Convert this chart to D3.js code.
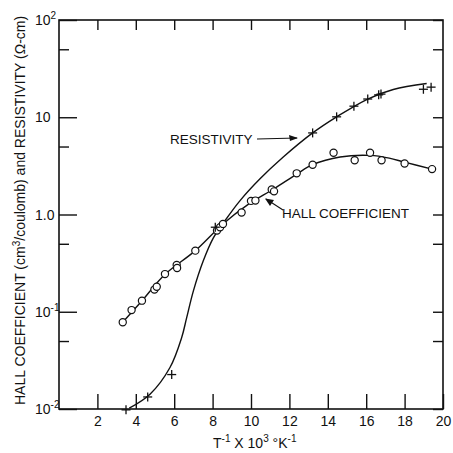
<!DOCTYPE html>
<html><head><meta charset="utf-8">
<script src="https://cdn.jsdelivr.net/npm/d3@7"></script>
<style>
html,body{margin:0;padding:0;background:#fff;}
svg{display:block;}
text{font-family:"Liberation Sans",Arial,sans-serif;fill:#111;}
</style></head>
<body>
<script>
// ---- data ----
const xTicks = [2,4,6,8,10,12,14,16,18,20];
const yMajor = [0.01,0.1,1,10,100];
const yMinor = [0.05,0.5,5,50];
const yTickLabels = [["10","-2"],["10","-1"],["1.0",""],["10",""],["10","2"]];

// Hall coefficient measured points (circles)
const hallX = [3.32,3.78,4.32,4.97,5.09,5.52,6.13,6.15,7.10,8.23,8.39,8.54,9.51,10.0,10.23,11.08,11.2,12.38,13.21,14.3,15.4,16.2,16.8,18.0,19.43];
const hallY = [0.078,0.104,0.130,0.169,0.181,0.244,0.303,0.282,0.425,0.684,0.74,0.80,1.05,1.38,1.39,1.81,1.73,2.65,3.25,4.32,3.61,4.32,3.61,3.34,2.93];
// Hall coefficient fitted curve
const hallCurveX = [3.32,4.3,5.5,7.1,8.54,9.8,11.2,12.38,13.21,14.64,16.2,17.2,18.0,19.43];
const hallCurveY = [0.078,0.128,0.24,0.425,0.80,1.25,1.84,2.6,3.25,3.9,4.05,3.8,3.45,2.93];

// Resistivity measured points (crosses)
const resX = [3.49,4.62,5.87,8.14,13.21,14.46,15.36,16.08,16.65,16.77,18.98,19.38];
const resY = [0.0098,0.0133,0.0226,0.74,6.9,10.1,13.0,15.4,17.0,17.3,19.4,20.4];
// Resistivity fitted curve
const resCurveX = [3.66,4.74,5.78,6.39,6.65,7.0,7.52,8.04,8.65,9.43,10.47,11.68,13.21,14.46,16.08,17.41,19.15];
const resCurveY = [0.0102,0.0142,0.0267,0.0543,0.087,0.164,0.336,0.575,0.867,1.39,2.33,3.9,6.9,10.1,15.4,19.3,22.2];

const W = 453, H = 453;
const m = {left:59, right:10, top:20, bottom:44};
const svg = d3.select("body").append("svg").attr("width",W).attr("height",H);

const x = d3.scaleLinear().domain([0,20]).range([m.left, W-m.right]);
const y = d3.scaleLog().domain([0.01,100]).range([H-m.bottom, m.top]);

const g = svg.append("g");
// frame
g.append("rect").attr("x",x(0)).attr("y",y(100)).attr("width",x(20)-x(0)).attr("height",y(0.01)-y(100))
  .attr("fill","none").attr("stroke","#111").attr("stroke-width",1.6);

// bottom axis (ticks inward, up)
const bottomAxis = d3.axisBottom(x).tickValues(xTicks).tickSize(-15).tickPadding(7).tickFormat(d3.format("d"));
const bg = g.append("g").attr("transform",`translate(0,${y(0.01)})`).call(bottomAxis);
bg.select(".domain").remove();
bg.selectAll("line").attr("stroke","#111").attr("stroke-width",1.4);
bg.selectAll("text").style("font-size","14px").attr("fill","#111");

// top axis ticks
const topAxis = d3.axisTop(x).tickValues(xTicks.slice(0,-1)).tickSize(-10).tickFormat("");
const tg = g.append("g").attr("transform",`translate(0,${y(100)})`).call(topAxis);
tg.select(".domain").remove();
tg.selectAll("line").attr("stroke","#111").attr("stroke-width",1.4);

// left axis ticks
const leftMajor = d3.axisLeft(y).tickValues(yMajor).tickSize(-18).tickFormat("");
const lg = g.append("g").attr("transform",`translate(${x(0)},0)`).call(leftMajor);
lg.select(".domain").remove();
lg.selectAll("line").attr("stroke","#111").attr("stroke-width",1.4);
const leftMinor = d3.axisLeft(y).tickValues(yMinor).tickSize(-10).tickFormat("");
const lg2 = g.append("g").attr("transform",`translate(${x(0)},0)`).call(leftMinor);
lg2.select(".domain").remove();
lg2.selectAll("line").attr("stroke","#111").attr("stroke-width",1.4);

// right axis ticks
const rightT = d3.axisRight(y).tickValues(yMajor.concat(yMinor)).tickSize(-10).tickFormat("");
const rg = g.append("g").attr("transform",`translate(${x(20)},0)`).call(rightT);
rg.select(".domain").remove();
rg.selectAll("line").attr("stroke","#111").attr("stroke-width",1.4);

// y tick labels
yMajor.forEach((v,i)=>{
  const [base,sup] = yTickLabels[i];
  const t = g.append("text").attr("x",35).attr("y",y(v)+5).style("font-size","14px");
  t.append("tspan").text(base);
  if(sup){ t.append("tspan").attr("dy",-6).style("font-size","10px").text(sup); }
});

// curves
const line = d3.line().x(d=>x(d[0])).y(d=>y(d[1])).curve(d3.curveCatmullRom.alpha(0.5));
g.append("path").datum(hallCurveX.map((v,i)=>[v,hallCurveY[i]])).attr("d",line)
  .attr("fill","none").attr("stroke","#111").attr("stroke-width",1.4);
g.append("path").datum(resCurveX.map((v,i)=>[v,resCurveY[i]])).attr("d",line)
  .attr("fill","none").attr("stroke","#111").attr("stroke-width",1.4);

// markers
g.selectAll("circle.hall").data(hallX.map((v,i)=>[v,hallY[i]])).enter().append("circle")
  .attr("class","hall").attr("cx",d=>x(d[0])).attr("cy",d=>y(d[1])).attr("r",3.6)
  .attr("fill","#fff").attr("stroke","#111").attr("stroke-width",1.2);
const plus = g.selectAll("g.res").data(resX.map((v,i)=>[v,resY[i]])).enter().append("g")
  .attr("class","res").attr("transform",d=>`translate(${x(d[0])},${y(d[1])})`);
plus.append("line").attr("x1",-4.5).attr("x2",4.5).attr("stroke","#111").attr("stroke-width",1.3);
plus.append("line").attr("y1",-4.5).attr("y2",4.5).attr("stroke","#111").attr("stroke-width",1.3);

// annotations
g.append("text").attr("x",170).attr("y",144).style("font-size","13.5px").text("RESISTIVITY");
g.append("line").attr("x1",257).attr("y1",139).attr("x2",297).attr("y2",138).attr("stroke","#111").attr("stroke-width",1.1);
g.append("path").attr("d","M298,138 L289,135 L290,141 Z").attr("fill","#111");
g.append("text").attr("x",282).attr("y",218).style("font-size","13.5px").text("HALL COEFFICIENT");
g.append("line").attr("x1",283).attr("y1",210).attr("x2",266).attr("y2",199).attr("stroke","#111").attr("stroke-width",1.1);
g.append("path").attr("d","M265,198.5 L274,200 L270,206 Z").attr("fill","#111");

// axis titles
const xt = g.append("text").attr("x",213).attr("y",448).style("font-size","14px");
xt.append("tspan").text("T");
xt.append("tspan").attr("dy",-6).style("font-size","10px").text("-1");
xt.append("tspan").attr("dy",6).text(" X 10");
xt.append("tspan").attr("dy",-6).style("font-size","10px").text("3");
xt.append("tspan").attr("dy",6).text(" °K");
xt.append("tspan").attr("dy",-6).style("font-size","10px").text("-1");

const yt = g.append("text").attr("transform","translate(25,405) rotate(-90)").style("font-size","14px");
yt.append("tspan").text("HALL COEFFICIENT (cm");
yt.append("tspan").attr("dy",-5).style("font-size","10px").text("3");
yt.append("tspan").attr("dy",5).text("/coulomb) and RESISTIVITY (Ω-cm)");
</script>
</body></html>
